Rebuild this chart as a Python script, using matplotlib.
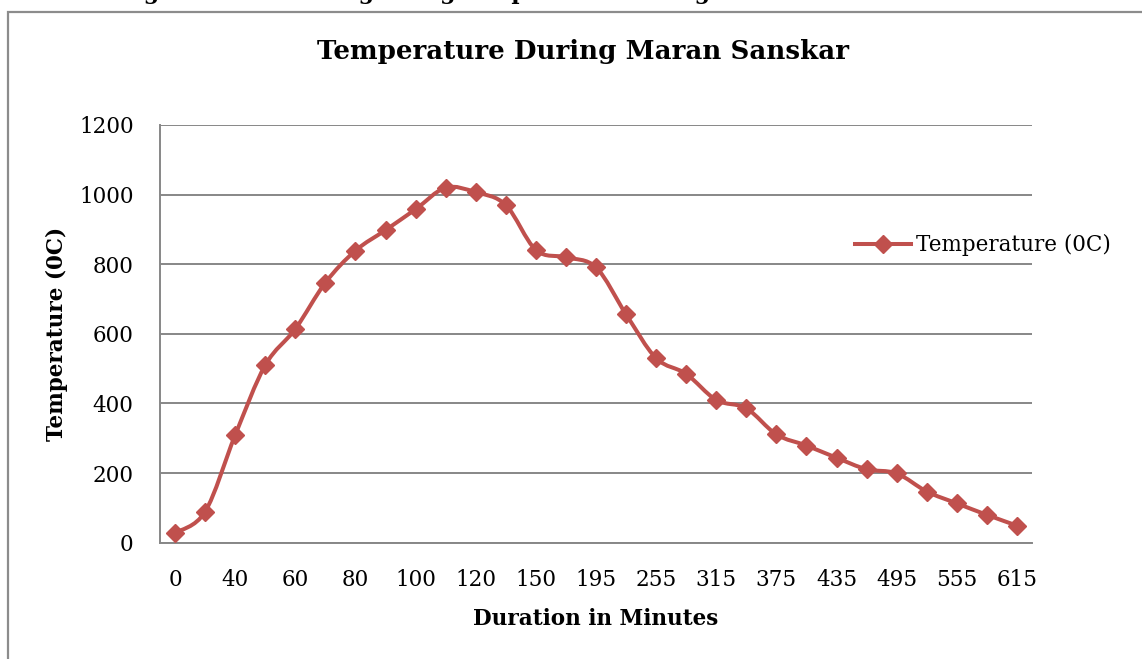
import numpy as np
import matplotlib.pyplot as plt
from matplotlib.path import Path
from matplotlib.patches import PathPatch, Rectangle
from matplotlib.lines import Line2D

# === Данные ===
durations = [0, 20, 40, 50, 60, 70, 80, 90, 100, 110, 120, 135, 150, 180, 195,
             225, 255, 285, 315, 345, 375, 405, 435, 465, 495, 525, 555, 585, 615]
temps = [28, 89, 309, 510, 614, 747, 839, 898, 958, 1020, 1007, 970, 841, 820, 791,
         656, 530, 485, 410, 386, 311, 279, 244, 211, 199, 147, 113, 80, 49]

RED = '#C0504D'
GRID = '#878787'
FONT = 'DejaVu Serif'


def smooth_path(xs, ys, t=1 / 6):
    """Кривая Безье через точки (как сглаженная линия в Excel)."""
    pts = np.column_stack([xs, ys]).astype(float)
    verts = [pts[0]]
    codes = [Path.MOVETO]
    n = len(pts)
    for i in range(n - 1):
        p0 = pts[max(i - 1, 0)]
        p1, p2 = pts[i], pts[i + 1]
        p3 = pts[min(i + 2, n - 1)]
        c1 = p1 + (p2 - p0) * t
        c2 = p2 - (p3 - p1) * t
        verts += [c1, c2, p2]
        codes += [Path.CURVE4] * 3
    return Path(verts, codes)


fig = plt.figure(figsize=(11.42, 6.59), dpi=100)

# рамка диаграммы и обрезанная строка текста сверху (как на скриншоте)
fig.patches.append(Rectangle((8 / 1142, -0.1), 1.2, 1 - 12 / 659 + 0.1,
                             transform=fig.transFigure, fill=False,
                             edgecolor='#8c8c8c', lw=1.6))
fig.text(0.5, 1 - 4 / 659,
         'Following observations regarding temperature during Maran Sanskar is shown below',
         ha='center', va='bottom', fontsize=16, fontweight='bold', family=FONT)

ax = fig.add_axes([160 / 1142, 1 - 542.7 / 659, 872 / 1142, 417.7 / 659])
x = np.arange(len(durations))

ax.add_patch(PathPatch(smooth_path(x, temps), fill=False, edgecolor=RED,
                       lw=2.9, capstyle='round', joinstyle='round', zorder=3))
ax.plot(x, temps, linestyle='none', marker='D', markersize=9,
        color=RED, zorder=4)

ax.set_xlim(-0.5, len(durations) - 0.5)
ax.set_ylim(0, 1200)
ax.set_yticks(range(0, 1201, 200))
ax.set_xticks(x[::2])
ax.set_xticklabels([str(d) for d in durations[::2]])
ax.grid(axis='y', color=GRID, lw=1.4)
ax.set_axisbelow(True)
for s in ['top', 'right']:
    ax.spines[s].set_visible(False)
ax.spines['left'].set_color(GRID)
ax.spines['bottom'].set_color(GRID)
ax.spines['left'].set_linewidth(1.4)
ax.spines['bottom'].set_linewidth(1.4)
ax.tick_params(length=0, labelsize=15.5, pad=19)
for lab in ax.get_xticklabels() + ax.get_yticklabels():
    lab.set_family(FONT)

ax.set_xlabel('Duration in Minutes', fontsize=15.5, fontweight='bold',
              family=FONT, labelpad=12)
ax.set_ylabel('Temperature (0C)', fontsize=15.5, fontweight='bold',
              family=FONT, labelpad=8)
fig.text(583 / 1142, 1 - 52 / 659, 'Temperature During Maran Sanskar',
         ha='center', va='center', fontsize=18.8, fontweight='bold', family=FONT)

handle = Line2D([0], [0], color=RED, lw=2.9, marker='D', markersize=9)
fig.legend(handles=[handle], labels=['Temperature (0C)'],
           loc='center left', bbox_to_anchor=(855 / 1142, 1 - 245 / 659),
           frameon=False, handlelength=2.6, handletextpad=0.25,
           borderpad=0, borderaxespad=0,
           prop={'family': FONT, 'size': 15.5})

plt.savefig('out.png', dpi=100)
